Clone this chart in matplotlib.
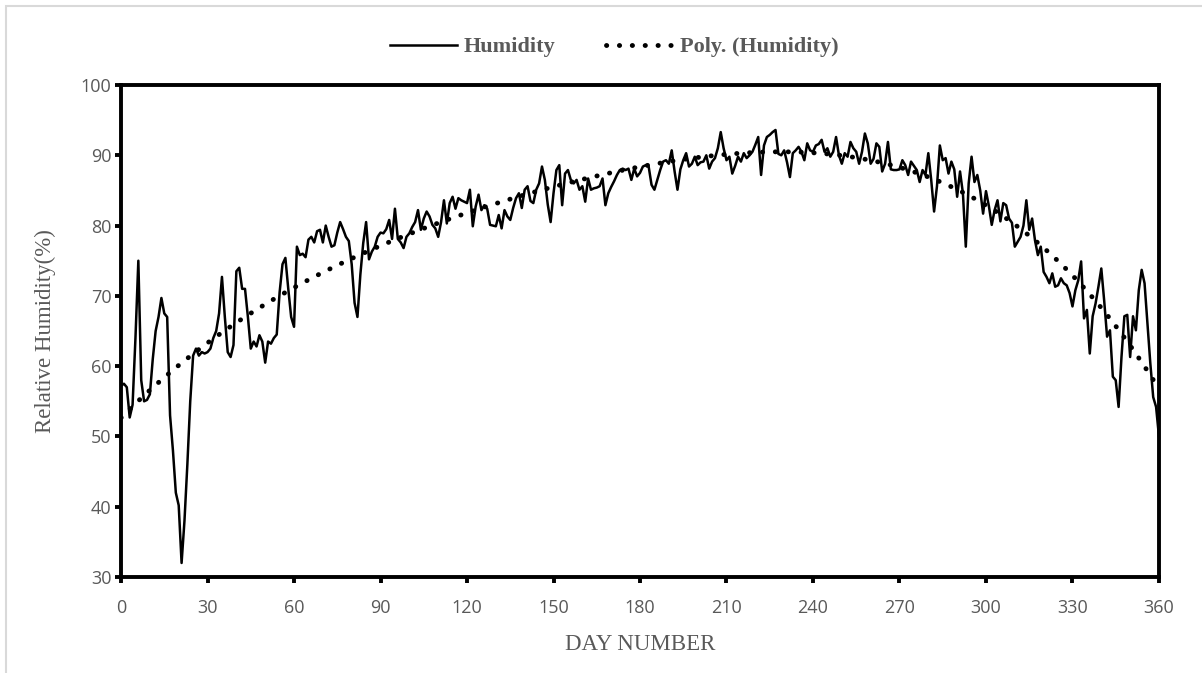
import numpy as np
import matplotlib
matplotlib.use("Agg")
import matplotlib.pyplot as plt
from matplotlib.patches import Rectangle

# daily relative humidity (%), day 0 .. 360
humidity = [
    57.2, 57.5, 57.0, 52.7, 54.5, 64.0, 75.0, 58.0, 55.0, 55.2,
    56.0, 61.0, 65.0, 67.0, 69.7, 67.5, 67.0, 53.0, 48.0, 42.0,
    40.2, 32.0, 38.0, 46.0, 55.0, 61.5, 62.5, 61.5, 62.0, 61.8,
    62.0, 62.5, 64.0, 65.0, 67.5, 72.7, 67.0, 62.0, 61.3, 63.0,
    73.5, 74.0, 71.0, 71.0, 67.0, 62.5, 63.5, 62.8, 64.4, 63.5,
    60.5, 63.5, 63.2, 64.0, 64.5, 70.5, 74.5, 75.4, 71.0, 67.0,
    65.6, 77.0, 75.8, 76.0, 75.5, 78.0, 78.4, 77.6, 79.2, 79.4,
    77.6, 80.0, 78.4, 77.0, 77.2, 79.0, 80.5, 79.5, 78.4, 77.8,
    74.5, 69.0, 67.0, 73.0, 77.5, 80.5, 75.2, 76.3, 77.0, 78.4,
    79.0, 78.9, 79.5, 80.8, 78.1, 82.4, 78.1, 77.6, 76.8, 78.4,
    78.9, 79.8, 80.5, 82.2, 79.4, 81.0, 82.0, 81.3, 80.1, 79.6,
    78.4, 80.5, 83.6, 80.3, 83.2, 84.1, 82.4, 83.9, 83.6, 83.4,
    83.2, 85.1, 79.9, 82.7, 84.4, 82.2, 82.9, 82.4, 80.1, 80.0,
    79.9, 81.5, 79.6, 82.2, 81.3, 80.8, 82.5, 83.9, 84.6, 82.5,
    85.1, 85.6, 83.5, 83.2, 85.1, 86.0, 88.4, 86.5, 83.0, 80.5,
    84.6, 87.9, 88.6, 82.9, 87.4, 87.9, 86.5, 86.0, 86.5, 85.1,
    85.6, 83.4, 86.7, 85.1, 85.3, 85.4, 85.6, 86.7, 82.9, 84.6,
    85.5, 86.3, 87.2, 87.9, 88.1, 87.9, 88.1, 86.5, 88.1, 87.0,
    87.5, 88.4, 88.6, 88.4, 85.8, 85.1, 86.5, 87.9, 89.1, 89.3,
    88.8, 90.7, 87.7, 85.1, 88.0, 89.3, 90.3, 88.4, 88.8, 89.8,
    88.6, 89.0, 89.1, 90.0, 88.1, 89.1, 89.6, 91.0, 93.3, 91.0,
    89.3, 89.8, 87.4, 88.5, 89.8, 89.1, 90.3, 89.6, 90.0, 90.5,
    91.5, 92.6, 87.2, 91.4, 92.6, 92.9, 93.3, 93.6, 90.2, 90.0,
    90.7, 89.0, 86.9, 90.3, 90.7, 91.2, 90.5, 89.3, 91.7, 90.7,
    90.5, 91.4, 91.6, 92.2, 90.5, 91.0, 89.8, 90.5, 92.6, 90.0,
    88.8, 90.3, 89.8, 91.9, 91.0, 90.5, 88.8, 90.5, 93.1, 91.7,
    88.8, 89.5, 91.7, 91.2, 87.7, 88.8, 91.9, 88.0, 87.9, 87.9,
    88.0, 89.3, 88.6, 87.2, 89.1, 88.5, 87.9, 86.2, 87.9, 87.2,
    90.3, 86.5, 82.0, 85.6, 91.4, 89.3, 89.6, 87.4, 89.1, 88.0,
    84.1, 87.7, 84.6, 77.0, 86.0, 89.8, 86.2, 87.2, 85.0, 81.7,
    84.9, 82.8, 80.1, 82.2, 83.6, 80.6, 83.2, 82.9, 81.0, 80.4,
    77.0, 77.7, 78.4, 80.0, 83.6, 79.4, 81.0, 77.9, 75.8, 77.0,
    73.4, 72.7, 71.8, 73.2, 71.3, 71.5, 72.5, 71.8, 71.5, 70.4,
    68.5, 70.8, 72.2, 74.9, 66.8, 68.0, 61.8, 67.1, 68.9, 71.3,
    73.9, 69.3, 64.2, 65.1, 58.5, 58.0, 54.2, 61.3, 67.1, 67.3,
    61.3, 67.1, 65.1, 70.8, 73.7, 71.8, 66.1, 60.4, 55.6, 54.2,
    50.0,
]
day = np.arange(len(humidity))

x_ticks = [0, 30, 60, 90, 120, 150, 180, 210, 240, 270, 300, 330, 360]
y_ticks = [30, 40, 50, 60, 70, 80, 90, 100]

# polynomial trendline, like Excel's "Poly." trendline
coef = np.polyfit(day, humidity, 4)
trend = np.polyval(coef, day)

gray = "#595959"
serif = ["Liberation Serif", "DejaVu Serif"]

fig = plt.figure(figsize=(12.02, 6.73), dpi=100)
ax = fig.add_axes([0.1007, 0.1426, 0.8635, 0.7311])

ax.plot(day, humidity, color="black", lw=1.8, label="Humidity")
ax.plot(day, trend, color="black", lw=3.5, linestyle=(0, (0.05, 2.6)),
        dash_capstyle="round", label="Poly. (Humidity)")

ax.set_xlim(0, 360)
ax.set_ylim(30, 100)
ax.set_xticks(x_ticks)
ax.set_yticks(y_ticks)
for s in ax.spines.values():
    s.set_linewidth(2.8)
    s.set_color("black")
ax.tick_params(direction="out", length=4, width=2.8, colors="black",
               labelcolor=gray, labelsize=13)
ax.tick_params(axis="x", pad=12)
ax.tick_params(axis="y", pad=3)
for lab in ax.get_xticklabels() + ax.get_yticklabels():
    lab.set_family(["Open Sans", "DejaVu Sans"])

ax.set_xlabel("DAY NUMBER", family=serif, fontsize=16.5, color=gray, labelpad=12)
ax.set_ylabel("Relative Humidity(%)", family=serif, fontsize=16.5, color=gray, labelpad=18)

leg = fig.legend(loc="center", bbox_to_anchor=(0.511, 0.930), ncol=2, frameon=False,
                 handlelength=3.0, handletextpad=0.3, columnspacing=2.3,
                 prop={"family": serif, "weight": "bold", "size": 16})
for t in leg.get_texts():
    t.set_color(gray)

# light gray chart-area border (only top/left visible in the crop)
fig.patches.append(Rectangle((6 / 1202, -0.05), 1.1, 1 - 6 / 673 + 0.05,
                             transform=fig.transFigure, fill=False,
                             edgecolor="#d9d9d9", lw=1.5))

fig.savefig("out.png", dpi=100)
